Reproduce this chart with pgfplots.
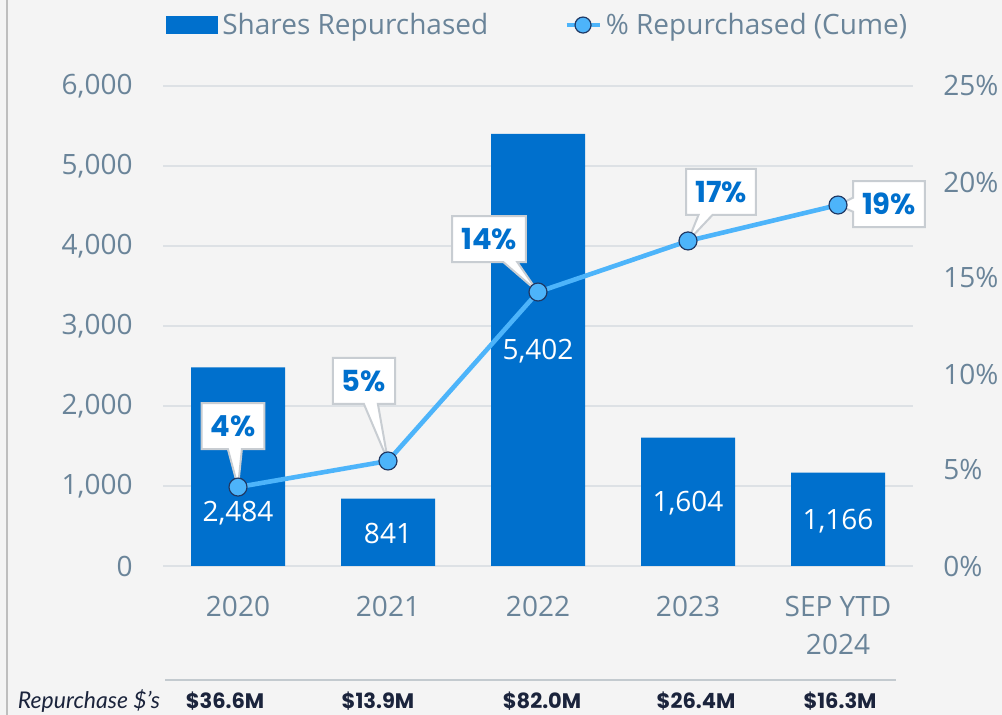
\documentclass[border=0pt]{standalone}
\usepackage{fontspec}
\setmainfont{Open Sans}
\newfontfamily\pop{Poppins}
\newfontfamily\lato{Lato}
\usepackage{pgfplots}
\pgfplotsset{compat=1.18}
\usetikzlibrary{shapes.callouts}

\definecolor{bgcol}{RGB}{244,244,244}
\definecolor{barblue}{RGB}{0,112,205}
\definecolor{lineblue}{RGB}{77,180,250}
\definecolor{marknavy}{RGB}{31,56,100}
\definecolor{tickgray}{RGB}{106,132,153}
\definecolor{gridgray}{RGB}{221,225,229}
\definecolor{boxgray}{RGB}{200,205,210}
\definecolor{sepgray}{RGB}{195,202,207}
\definecolor{bordergray}{RGB}{190,190,190}
\definecolor{darknavy}{RGB}{27,36,60}

\tikzset{
    pct/.style={
        rectangle callout, fill=white, draw=boxgray, line width=1pt,
        text=barblue, font=\pop\bfseries\fontsize{14.5}{15}\selectfont,
        minimum height=23pt, inner xsep=4.5pt, callout pointer width=7pt
    },
    barlab/.style={text=white, font=\fontsize{14}{16}\selectfont}
}

\begin{document}
\begin{tikzpicture}
\fill[bgcol] (0,0) rectangle (501pt,-357.5pt);
\useasboundingbox (0,0) rectangle (501pt,-357.5pt);
\draw[bordergray, line width=1pt] (3.5pt,0) -- (3.5pt,-357.5pt);

% shares (left axis)
\begin{axis}[
    at={(81.5pt,-283pt)}, anchor=south west,
    scale only axis, width=375pt, height=240pt,
    xmin=-0.5, xmax=4.5, ymin=0, ymax=6000,
    axis line style={draw=none}, major tick length=0pt,
    ytick={0,1000,...,6000},
    ymajorgrids, grid style={gridgray, line width=1pt},
    xtick={0,...,4},
    xticklabels={2020,2021,2022,2023,{SEP YTD\\[3pt]2024}},
    tick label style={text=tickgray, font=\fontsize{14}{16}\selectfont},
    xticklabel style={align=center, inner sep=0pt, anchor=north, yshift=-15pt},
    yticklabel style={inner sep=0pt, anchor=east, xshift=-15pt},
    /pgf/number format/.cd, 1000 sep={,}, assume math mode=true,
    /pgfplots/.cd,
    legend style={draw=none, fill=none, at={(rel axis cs:0.501,1.127)},
        anchor=center, legend columns=2, text=tickgray,
        font=\fontsize{14}{16}\selectfont,
        /tikz/every even column/.append style={column sep=36pt}},
    legend cell align=left,
]
\addplot[ybar, bar width=47pt, fill=barblue, draw=none,
    legend image code/.code={\fill[barblue] (0pt,-4.5pt) rectangle (26pt,4.5pt);}]
    coordinates {(0,2484) (1,841) (2,5402) (3,1604) (4,1166)};
\addlegendentry{Shares Repurchased}
\addlegendimage{legend image code/.code={
    \draw[lineblue, line width=2.3pt] (0pt,0pt) -- (16.5pt,0pt);
    \filldraw[fill=lineblue, draw=marknavy, line width=0.6pt] (8.25pt,0pt) circle (4pt);}}
\addlegendentry{\% Repurchased (Cume)}

\node[barlab] at (axis cs:0,660) {2,484};
\node[barlab] at (axis cs:1,410) {841};
\node[barlab] at (axis cs:2,2690) {5,402};
\node[barlab] at (axis cs:3,780) {1,604};
\node[barlab] at (axis cs:4,565) {1,166};
\end{axis}

% cumulative percent (right axis)
\begin{axis}[
    at={(81.5pt,-283pt)}, anchor=south west,
    scale only axis, width=375pt, height=240pt,
    xmin=-0.5, xmax=4.5, ymin=0, ymax=25, clip=false,
    axis x line=none, axis y line*=right,
    axis line style={draw=none}, major tick length=0pt,
    ytick={0,5,...,25},
    yticklabel={\pgfmathprintnumber{\tick}\%},
    tick label style={text=tickgray, font=\fontsize{14}{16}\selectfont},
    yticklabel style={inner sep=0pt, anchor=west, xshift=15pt},
    /pgf/number format/assume math mode=true,
]
\addplot[lineblue, line width=2.3pt, mark=*, mark size=4.5pt,
    mark options={fill=lineblue, draw=marknavy, line width=0.6pt}]
    coordinates {(0,4.11) (1,5.47) (2,14.27) (3,16.93) (4,18.80)};

\node[pct, callout absolute pointer={(axis cs:0,4.11)}]
    at ([shift={(-2.5pt,30.5pt)}]axis cs:0,4.11) {4\%};
\node[pct, callout absolute pointer={(axis cs:1,5.47)}]
    at ([shift={(-12pt,40pt)}]axis cs:1,5.47) {5\%};
\node[pct, callout absolute pointer={(axis cs:2,14.27)}]
    at ([shift={(-24.5pt,26.5pt)}]axis cs:2,14.27) {14\%};
\node[pct, callout absolute pointer={(axis cs:3,16.93)}]
    at ([shift={(16.5pt,24.5pt)}]axis cs:3,16.93) {17\%};
\node[pct, callout absolute pointer={(axis cs:4,18.80)}]
    at ([shift={(25.5pt,0.5pt)}]axis cs:4,18.80) {19\%};
\end{axis}

% repurchase dollars row
\draw[sepgray, line width=1.3pt] (82.5pt,-340pt) -- (448pt,-340pt);
\node[text=darknavy, font=\lato\itshape\fontsize{11.5}{12}\selectfont]
    at (44.5pt,-350.5pt) {Repurchase \$’s};
\begin{scope}[every node/.style={text=darknavy, inner sep=0pt,
    font=\pop\bfseries\fontsize{10.5}{12}\selectfont}]
\node at (112.5pt,-350.5pt) {\$36.6M};
\node at (189pt,-350.5pt) {\$13.9M};
\node at (271pt,-350.5pt) {\$82.0M};
\node at (348pt,-350.5pt) {\$26.4M};
\node at (420pt,-350.5pt) {\$16.3M};
\end{scope}
\end{tikzpicture}
\end{document}
